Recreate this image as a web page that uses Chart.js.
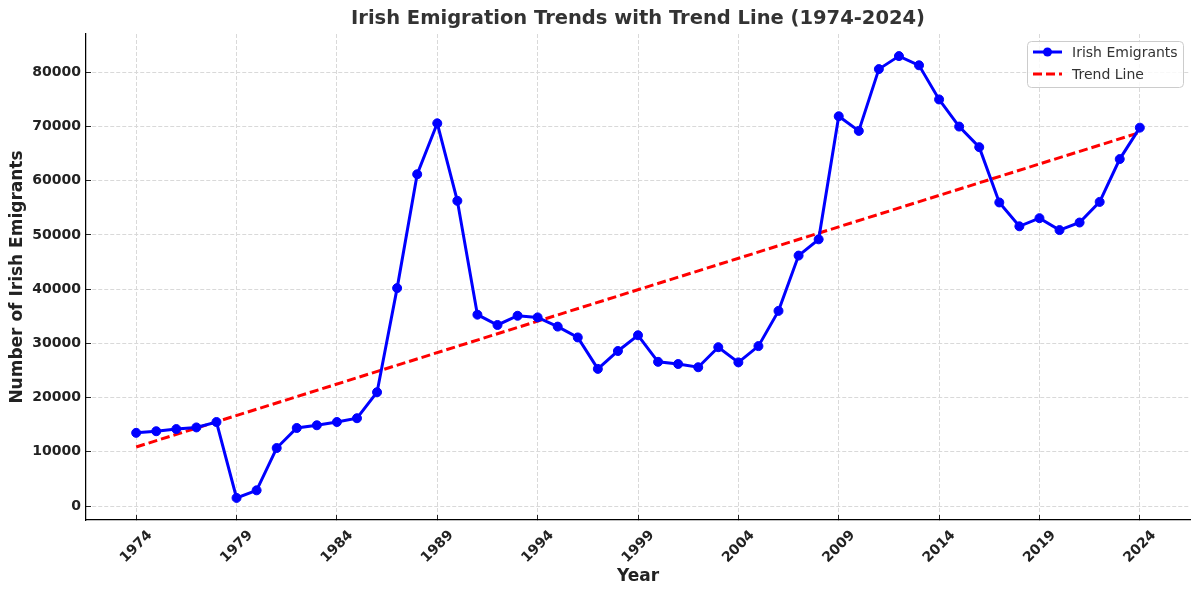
<!DOCTYPE html>
<html>
<head>
<meta charset="utf-8">
<script src="https://cdn.jsdelivr.net/npm/chart.js@4"></script>
<style>
    html, body { margin: 0; padding: 0; background: #fff; }
    #wrap { width: 1200px; height: 595px; }
</style>
</head>
<body>
<div id="wrap"><canvas id="emigrationChart" width="1200" height="595"></canvas></div>
<script>
// values
const years = [1974, 1975, 1976, 1977, 1978, 1979, 1980, 1981, 1982, 1983,
    1984, 1985, 1986, 1987, 1988, 1989, 1990, 1991, 1992, 1993,
    1994, 1995, 1996, 1997, 1998, 1999, 2000, 2001, 2002, 2003,
    2004, 2005, 2006, 2007, 2008, 2009, 2010, 2011, 2012, 2013,
    2014, 2015, 2016, 2017, 2018, 2019, 2020, 2021, 2022, 2023, 2024];
const emigrants = [13500, 13800, 14200, 14500, 15500, 1500, 2900, 10700, 14400, 14900,
    15500, 16200, 21000, 40200, 61200, 70600, 56300, 35300, 33400, 35100,
    34800, 33100, 31100, 25300, 28600, 31500, 26600, 26200, 25600, 29300,
    26500, 29500, 36000, 46200, 49200, 71900, 69200, 80600, 83000, 81300,
    75000, 70000, 66200, 56000, 51600, 53100, 50900, 52300, 56100, 64000, 69800];
const trendYears = [1974, 2024];
const trendValues = [10900, 68900];
const xTicks = [1974, 1979, 1984, 1989, 1994, 1999, 2004, 2009, 2014, 2019, 2024];
const yTicks = [0, 10000, 20000, 30000, 40000, 50000, 60000, 70000, 80000];

const FONT = "'DejaVu Sans', 'Liberation Sans', sans-serif";

// matplotlib-like legend: line sample with marker, dashed sample
const legendBox = {
    id: 'legendBox',
    afterDraw(chart) {
        const ctx = chart.ctx;
        const items = [
            { label: 'Irish Emigrants', color: '#0000ff', dash: [], marker: true },
            { label: 'Trend Line', color: '#ff0000', dash: [9, 4], marker: false }
        ];
        ctx.save();
        ctx.beginPath();
        ctx.roundRect(1027.5, 41.5, 156, 46, 4);
        ctx.fillStyle = 'rgba(255,255,255,0.8)';
        ctx.fill();
        ctx.strokeStyle = '#cccccc';
        ctx.lineWidth = 1;
        ctx.stroke();

        items.forEach((item, i) => {
            const y = 52 + i * 22;
            ctx.beginPath();
            ctx.setLineDash(item.dash);
            ctx.strokeStyle = item.color;
            ctx.lineWidth = 3;
            ctx.moveTo(1033, y);
            ctx.lineTo(1062, y);
            ctx.stroke();
            ctx.setLineDash([]);
            if (item.marker) {
                ctx.beginPath();
                ctx.fillStyle = item.color;
                ctx.arc(1047.5, y, 4.5, 0, Math.PI * 2);
                ctx.fill();
            }
            ctx.fillStyle = '#333333';
            ctx.font = '14px ' + FONT;
            ctx.textAlign = 'left';
            ctx.textBaseline = 'middle';
            ctx.fillText(item.label, 1072, y + 1);
        });
        ctx.restore();
    }
};

const ctx = document.getElementById('emigrationChart').getContext('2d');
const emigrationChart = new Chart(ctx, {
    type: 'line',
    data: {
        datasets: [{
            label: 'Irish Emigrants',
            data: years.map((yr, i) => ({ x: yr, y: emigrants[i] })),
            borderColor: '#0000ff',
            backgroundColor: '#0000ff',
            borderWidth: 3,
            pointRadius: 4.5,
            pointBorderWidth: 1,
            pointBackgroundColor: '#0000ff',
            pointBorderColor: '#0000ff',
            fill: false,
            tension: 0
        }, {
            label: 'Trend Line',
            data: trendYears.map((yr, i) => ({ x: yr, y: trendValues[i] })),
            borderColor: '#ff0000',
            borderWidth: 3,
            borderDash: [9, 4],
            pointRadius: 0,
            fill: false
        }]
    },
    options: {
        responsive: false,
        animation: false,
        layout: {
            padding: { top: 0, right: 10, bottom: 0, left: 0 }
        },
        plugins: {
            legend: { display: false },
            tooltip: { enabled: false },
            title: {
                display: true,
                fullSize: false,
                text: 'Irish Emigration Trends with Trend Line (1974-2024)',
                color: '#333333',
                font: { family: FONT, size: 19.5, weight: 'bold', lineHeight: 1.2 },
                padding: { top: 7.5, bottom: 3.1 }
            }
        },
        scales: {
            x: {
                type: 'linear',
                min: 1971.5,
                max: 2026.5,
                afterBuildTicks: scale => { scale.ticks = xTicks.map(v => ({ value: v })); },
                afterFit: scale => { scale.height = 75; },
                ticks: {
                    minRotation: 45,
                    maxRotation: 45,
                    autoSkip: false,
                    labelOffset: 14,
                    padding: 12,
                    color: '#222222',
                    font: { family: FONT, size: 14, weight: 'bold' },
                    callback: v => String(v)
                },
                grid: {
                    color: '#d9d9d9',
                    tickColor: '#222222',
                    tickLength: -5,
                    tickBorderDash: []
                },
                border: { color: '#000000', width: 1.25, dash: [4, 2] },
                title: {
                    display: true,
                    text: 'Year',
                    color: '#222222',
                    font: { family: FONT, size: 17, weight: 'bold', lineHeight: 1.2 },
                    padding: { top: 0, bottom: 8.5 }
                }
            },
            y: {
                type: 'linear',
                min: -2575,
                max: 87075,
                afterBuildTicks: scale => { scale.ticks = yTicks.map(v => ({ value: v })); },
                afterFit: scale => { scale.width = 86; },
                ticks: {
                    padding: 10,
                    color: '#222222',
                    font: { family: FONT, size: 14, weight: 'bold' },
                    callback: v => String(v)
                },
                grid: {
                    color: '#d9d9d9',
                    tickColor: '#222222',
                    tickLength: -5,
                    tickBorderDash: []
                },
                border: { color: '#000000', width: 1.25, dash: [4, 2] },
                title: {
                    display: true,
                    text: 'Number of Irish Emigrants',
                    color: '#222222',
                    font: { family: FONT, size: 17, weight: 'bold', lineHeight: 1.2 },
                    padding: { top: 7.5, bottom: 0 }
                }
            }
        }
    },
    plugins: [legendBox]
});
</script>
</body>
</html>
